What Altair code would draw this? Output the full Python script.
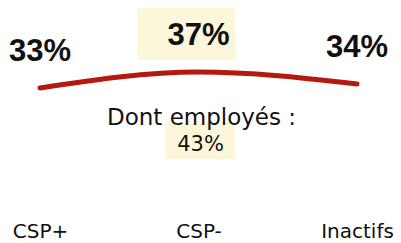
import altair as alt
import pandas as pd

categories = ["CSP+", "CSP-", "Inactifs"]
values = [33, 37, 34]
sub_title = "Dont employés :"
sub_value = 43

df = pd.DataFrame({"cat": categories, "val": values})
df["label"] = [f"{v}%" for v in values]

ann = pd.DataFrame({"cat": [categories[1]], "val": [values[1]],
                    "title": [sub_title], "sub": [f"{sub_value}%"]})

RED = "#B3190C"
CREAM = "#FCF7DA"
TXT = "#111111"

x = alt.X("cat:N", sort=categories,
          scale=alt.Scale(type="point", range=[32, 349], padding=0),
          axis=alt.Axis(title=None, domain=False, ticks=False, grid=False,
                        labelAngle=0, labelFontSize=20, labelFont="DejaVu Sans",
                        labelColor=TXT, labelPadding=0, offset=-22))
y = alt.Y("val:Q", scale=alt.Scale(domain=[-5.75, 52.25]), axis=None)

base = alt.Chart(df).encode(x=x, y=y)

hl_max = base.transform_filter(alt.datum.cat == categories[1]).mark_rect(
    width=98, height=55, color=CREAM, xOffset=-12, yOffset=-39.5)

line = base.mark_line(interpolate="monotone", strokeWidth=5, strokeCap="round", color=RED)

labels = base.mark_text(font="Liberation Sans", fontWeight="bold", fontSize=31,
                        color=TXT, dy=-36, baseline="middle").encode(text="label:N")

abase = alt.Chart(ann).encode(x=x, y=y)
hl_sub = abase.mark_rect(width=70, height=37, color=CREAM, xOffset=2, yOffset=68.5)
t1 = abase.mark_text(font="DejaVu Sans", fontSize=23, color=TXT, dy=46, dx=3,
                     baseline="middle").encode(text="title:N")
t2 = abase.mark_text(font="DejaVu Sans", fontSize=21, color=TXT, dy=73, dx=2,
                     baseline="middle").encode(text="sub:N")

chart = alt.layer(hl_max, line, labels, hl_sub, t1, t2).properties(
    width=385, height=232,
    padding={"top": 3, "left": 0, "right": 0, "bottom": 0},
    autosize=alt.AutoSizeParams(type="none"),
    background="white",
).configure_view(stroke=None)

chart.save("out.html", embed_options={"renderer": "svg", "actions": False})
